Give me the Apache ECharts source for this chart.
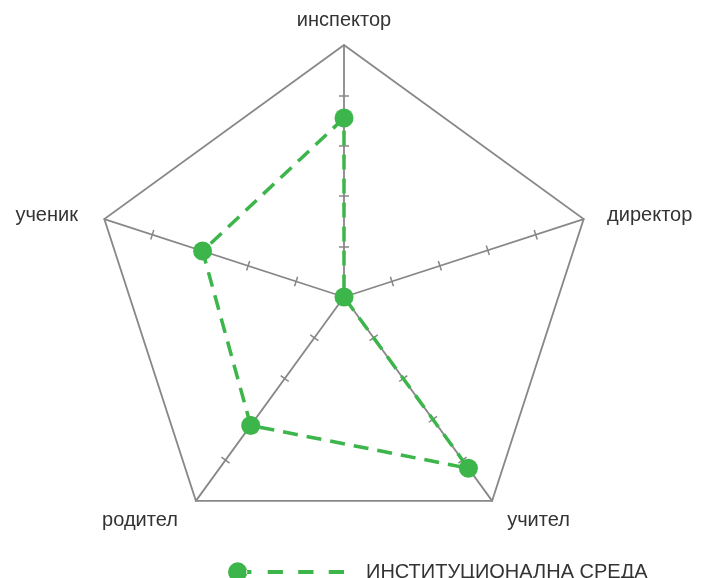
<!DOCTYPE html>
<html>
<head>
<meta charset="utf-8">
<script src="https://cdn.jsdelivr.net/npm/echarts@6/dist/echarts.min.js"></script>
<style>html,body{margin:0;padding:0;background:#fff}#c{width:701px;height:578px}</style>
</head>
<body>
<div id="c"></div>
<script>
// Indicators in ECharts order (counter-clockwise from top)
const indicatorNames = ['инспектор', 'ученик', 'родител', 'учител', 'директор'];
const seriesName = 'ИНСТИТУЦИОНАЛНА СРЕДА';
const seriesValues = [0.71, 0.59, 0.63, 0.84, 0];
const axisMax = 1;
const tickValues = [0.2, 0.4, 0.6, 0.8];

const green = '#3cb54a';
const gray = '#888888';
const font = '"Liberation Sans", Arial, sans-serif';

const nameStyle = {
  'инспектор': 't', 'ученик': 'l', 'родител': 'bl', 'учител': 'br', 'директор': 'r'
};

const indicator = indicatorNames.map(n => ({ name: n, max: axisMax, min: 0 }));

function radarBase(kind) {
  const fs = 20;
  const main = kind === 'main';
  return {
    center: [344, 297],
    radius: 252,
    startAngle: 90,
    splitNumber: 5,
    shape: 'polygon',
    indicator: indicator,
    nameGap: 12,
    axisName: main ? {
      color: '#333',
      fontSize: fs,
      fontFamily: font,
      formatter: function (name) { return '{' + nameStyle[name] + '|' + name + '}'; },
      rich: {
        t: { fontSize: fs, fontFamily: font, color: '#333', padding: [0, 0, 3, 0] },
        l: { fontSize: fs, fontFamily: font, color: '#333', padding: [0, 15, 0, 0] },
        r: { fontSize: fs, fontFamily: font, color: '#333', padding: [0, 0, 0, 12] },
        bl: { fontSize: fs, fontFamily: font, color: '#333', padding: [19, 11, 0, 0] },
        br: { fontSize: fs, fontFamily: font, color: '#333', padding: [19, 0, 0, 8] }
      }
    } : { show: false },
    axisLine: { show: main, lineStyle: { color: gray, width: 1.8 } },
    axisTick: main ? { show: false } : {
      show: true, length: kind === 'tickA' ? 5 : -5, customValues: tickValues,
      lineStyle: { color: gray, width: 1.5 }
    },
    axisLabel: { show: false },
    splitLine: main ? {
      show: true,
      lineStyle: { color: ['transparent', 'transparent', 'transparent', 'transparent', 'transparent', gray], width: 1.8 }
    } : { show: false },
    splitArea: { show: false }
  };
}

const chart = echarts.init(document.getElementById('c'), null, { renderer: 'canvas' });
chart.setOption({
  animation: false,
  backgroundColor: '#fff',
  legend: {
    data: [seriesName],
    left: 228,
    top: 562,
    padding: 0,
    itemWidth: 116,
    itemHeight: 20,
    icon: 'path://M1,10a9.5,9.5 0 1,0 19,0a9.5,9.5 0 1,0 -19,0Z M19,8h5v4h-5Z M40,8h15v4h-15Z M70,8h15v4h-15Z M100,8h15v4h-15Z',
    itemStyle: { color: green, borderWidth: 0 },
    lineStyle: { width: 0 },
    textStyle: { fontSize: 20, fontFamily: font, color: '#333', padding: [0, 0, 0, 17] }
  },
  radar: [radarBase('main'), radarBase('tickA'), radarBase('tickB')],
  series: [{
    type: 'radar',
    radarIndex: 0,
    symbol: 'circle',
    symbolSize: 19,
    z: 5,
    itemStyle: { color: green },
    lineStyle: { color: green, width: 3.5, type: [15, 9] },
    data: [{ name: seriesName, value: seriesValues }]
  }]
});
</script>
</body>
</html>
